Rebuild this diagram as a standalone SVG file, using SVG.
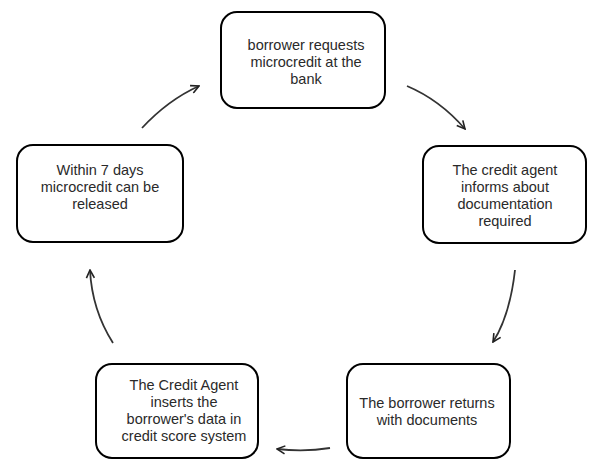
<svg xmlns="http://www.w3.org/2000/svg" width="589" height="461" viewBox="0 0 589 461">
<defs>
<marker id="ah" viewBox="0 0 10 10" refX="9" refY="5" markerWidth="10" markerHeight="10" markerUnits="userSpaceOnUse" orient="auto">
<path d="M1,1 L9,5 L1,9" fill="none" stroke="#222" stroke-width="1.6"/>
</marker>
</defs>
<style>
.box{fill:#fff;stroke:#000;stroke-width:2}
.t{font-family:"Liberation Sans",Arial,sans-serif;font-size:14.5px;fill:#2a2a2a;text-anchor:middle}
.c{fill:none;stroke:#333;stroke-width:1.8;marker-end:url(#ah)}
</style>
<rect width="589" height="461" fill="#fff"/>
<g id="n1">
<rect class="box" x="221" y="12" width="164" height="96" rx="16"/>
<text class="t" x="306" y="50">borrower requests</text>
<text class="t" x="306" y="67">microcredit at the</text>
<text class="t" x="306" y="84">bank</text>
</g>
<g id="n2">
<rect class="box" x="423" y="146" width="163" height="97" rx="16"/>
<text class="t" x="505" y="175">The credit agent</text>
<text class="t" x="505" y="192">informs about</text>
<text class="t" x="505" y="209">documentation</text>
<text class="t" x="505" y="226">required</text>
</g>
<g id="n3">
<rect class="box" x="347" y="364" width="163" height="94" rx="16"/>
<text class="t" x="427" y="408">The borrower returns</text>
<text class="t" x="427" y="425">with documents</text>
</g>
<g id="n4">
<rect class="box" x="96" y="364" width="162" height="94" rx="16"/>
<text class="t" x="184" y="390">The Credit Agent</text>
<text class="t" x="184" y="407">inserts the</text>
<text class="t" x="184" y="424">borrower's data in</text>
<text class="t" x="184" y="441">credit score system</text>
</g>
<g id="n5">
<rect class="box" x="17" y="145" width="166" height="97" rx="16"/>
<text class="t" x="100" y="175">Within 7 days</text>
<text class="t" x="100" y="192">microcredit can be</text>
<text class="t" x="100" y="209">released</text>
</g>
<g id="connectors">
<path class="c" d="M142,128 Q168,100 199,86"/>
<path class="c" d="M407,86 Q440,100 465,129"/>
<path class="c" d="M515,270 Q510,315 493,342"/>
<path class="c" d="M330,448 Q305,452 277,449"/>
<path class="c" d="M113,343 Q92,310 90,270"/>
</g>
</svg>
